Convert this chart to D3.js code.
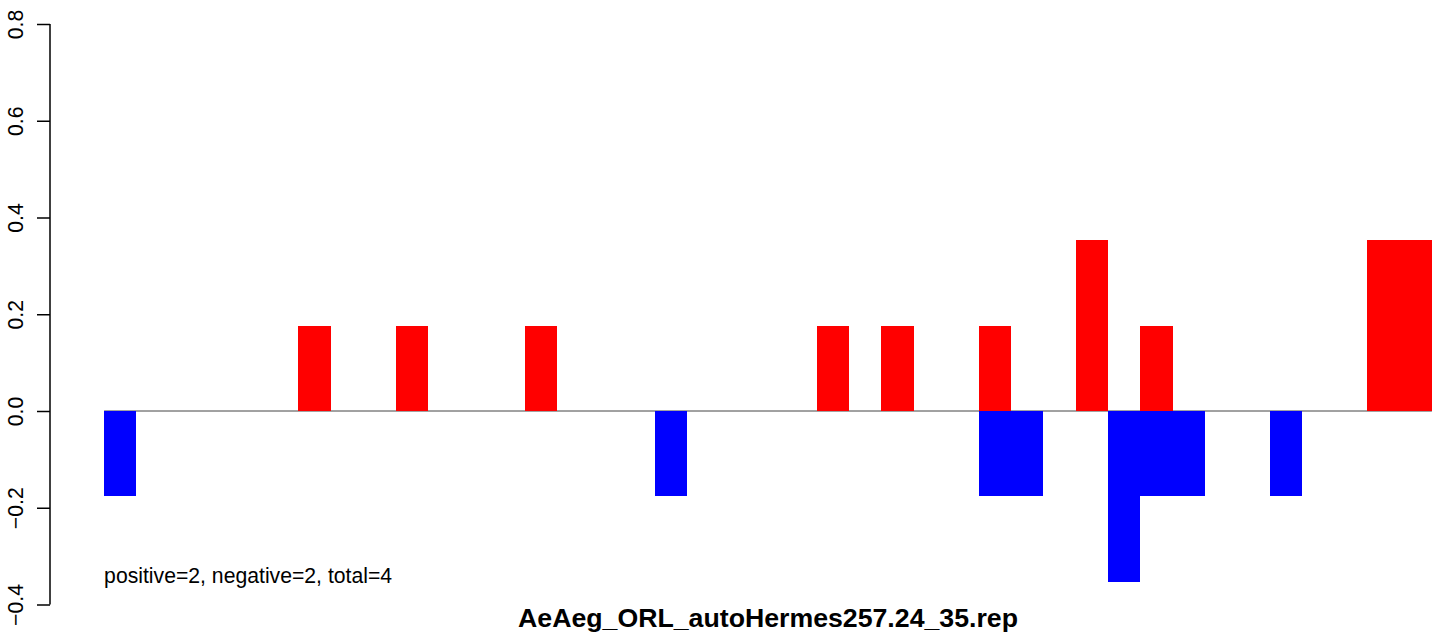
<!DOCTYPE html>
<html>
<head>
<meta charset="utf-8">
<script src="https://cdn.jsdelivr.net/npm/d3@7"></script>
<style>
  body { margin: 0; background: #fff; }
  text { font-family: "Liberation Sans", Arial, sans-serif; }
</style>
</head>
<body>
<div id="chart"></div>
<script>
// bin values, one per bin (41 bins)
var positive = [0, 0, 0, 0, 0, 0, 0.176, 0, 0, 0.176,
                0, 0, 0, 0.176, 0, 0, 0, 0, 0, 0,
                0, 0, 0.176, 0, 0.176, 0, 0, 0.176, 0, 0,
                0.353, 0, 0.176, 0, 0, 0, 0, 0, 0, 0.353,
                0.353];
var negative = [-0.176, 0, 0, 0, 0, 0, 0, 0, 0, 0,
                0, 0, 0, 0, 0, 0, 0, -0.176, 0, 0,
                0, 0, 0, 0, 0, 0, 0, -0.176, -0.176, 0,
                0, -0.353, -0.176, -0.176, 0, 0, -0.176, 0, 0, 0,
                0];
var yTicks = [-0.4, -0.2, 0, 0.2, 0.4, 0.6, 0.8];
var title = "AeAeg_ORL_autoHermes257.24_35.rep";
var note = "positive=2, negative=2, total=4";

var w = 1444, h = 635;

var svg = d3.select("#chart")
    .append("svg")
    .attr("width", w)
    .attr("height", h);

var x = d3.scaleLinear()
    .domain([0, positive.length])
    .range([104.1, 1431.9]);

var y = d3.scaleLinear()
    .domain([-0.4, 0.8])
    .range([604.5, 24]);

// zero line under the bars
svg.append("line")
    .attr("x1", x(0))
    .attr("x2", x(positive.length))
    .attr("y1", y(0))
    .attr("y2", y(0))
    .attr("stroke", "#444")
    .attr("stroke-width", 1);

var drawBars = function(values, color) {
    svg.append("g")
        .selectAll("rect")
        .data(values.map(function(d, i) { return {i: i, v: d}; })
                    .filter(function(d) { return d.v !== 0; }))
        .enter()
        .append("rect")
        .attr("x", function(d) { return x(d.i); })
        .attr("width", function(d) { return x(d.i + 1) - x(d.i); })
        .attr("y", function(d) { return y(Math.max(0, d.v)); })
        .attr("height", function(d) { return Math.abs(y(d.v) - y(0)); })
        .attr("fill", color)
        .attr("shape-rendering", "crispEdges");
};

drawBars(positive, "#ff0000");
drawBars(negative, "#0000ff");

// y axis, R style: ticks outward, labels rotated
var axis = d3.axisLeft(y)
    .tickValues(yTicks)
    .tickSize(13)
    .tickPadding(0)
    .tickFormat(function(d) { return d3.format(".1f")(d).replace("-", "\u2212"); });

var gAxis = svg.append("g")
    .attr("transform", "translate(50,0)")
    .call(axis);

gAxis.select(".domain")
    .attr("d", "M0," + y(-0.4) + "V" + y(0.8))
    .attr("stroke", "#000")
    .attr("stroke-width", 1.5);

gAxis.selectAll(".tick line")
    .attr("stroke", "#000")
    .attr("stroke-width", 1.5);

gAxis.selectAll(".tick text")
    .attr("x", null)
    .attr("dy", null)
    .attr("transform", "translate(-27,0) rotate(-90)")
    .attr("text-anchor", "middle")
    .attr("font-family", "Liberation Sans, Arial, sans-serif")
    .attr("font-size", "21.2px")
    .attr("fill", "#000");

svg.append("text")
    .attr("x", x(0))
    .attr("y", 583)
    .attr("font-size", "21.2px")
    .attr("fill", "#000")
    .text(note);

svg.append("text")
    .attr("x", (x(0) + x(positive.length)) / 2)
    .attr("y", 627)
    .attr("text-anchor", "middle")
    .attr("font-weight", "bold")
    .attr("font-size", "26.7px")
    .attr("fill", "#000")
    .text(title);
</script>
</body>
</html>
